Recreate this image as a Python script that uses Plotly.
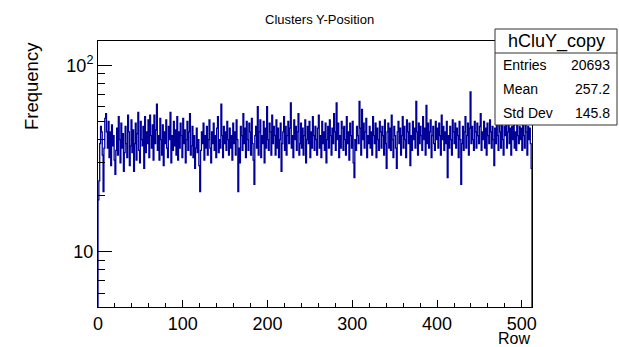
import numpy as np
import plotly.graph_objects as go

# ---- data: counts per row bin (512 bins, 0..512) ----
counts = [
    19, 24, 38, 47, 44, 33, 21, 36, 52, 55, 44, 36, 50, 32, 44, 29,
    48, 37, 42, 31, 26, 35, 46, 33, 53, 40, 30, 49, 36, 43, 27, 34,
    47, 38, 32, 54, 44, 29, 37, 51, 34, 45, 27, 38, 49, 31, 43, 56,
    35, 30, 50, 40, 37, 47, 28, 53, 34, 44, 38, 51, 32, 54, 42, 36,
    48, 31, 54, 38, 45, 62, 35, 42, 31, 52, 40, 33, 48, 29, 44, 38,
    51, 36, 32, 47, 40, 56, 30, 42, 35, 50, 37, 45, 33, 53, 31, 44,
    36, 49, 42, 32, 52, 38, 45, 30, 40, 50, 35, 44, 55, 33, 37, 47,
    32, 42, 28, 36, 46, 34, 40, 29, 21, 35, 44, 38, 49, 31, 42, 36,
    47, 33, 40, 51, 36, 30, 44, 38, 49, 35, 42, 32, 46, 53, 34, 40,
    36, 62, 42, 32, 47, 38, 44, 35, 50, 40, 33, 46, 36, 42, 31, 49,
    38, 44, 33, 51, 40, 21, 36, 30, 47, 42, 35, 55, 38, 46, 32, 50,
    40, 35, 49, 44, 33, 52, 38, 31, 23, 42, 47, 36, 60, 33, 44, 51,
    32, 42, 38, 50, 30, 46, 36, 60, 40, 35, 49, 44, 33, 54, 38, 47,
    42, 33, 51, 36, 46, 32, 40, 49, 27, 38, 44, 53, 35, 47, 33, 42,
    50, 38, 46, 63, 36, 42, 32, 51, 40, 47, 35, 44, 55, 33, 38, 49,
    36, 46, 33, 42, 51, 30, 40, 47, 38, 50, 32, 44, 36, 53, 42, 35,
    47, 40, 33, 46, 54, 36, 42, 32, 50, 38, 44, 35, 49, 30, 40, 47,
    36, 51, 42, 33, 46, 38, 55, 44, 35, 63, 40, 49, 32, 42, 36, 50,
    46, 35, 47, 40, 33, 53, 38, 44, 31, 49, 42, 36, 50, 30, 25, 40,
    35, 47, 42, 38, 64, 46, 33, 58, 40, 49, 36, 44, 52, 32, 42, 38,
    47, 36, 44, 33, 53, 42, 38, 49, 32, 46, 40, 35, 50, 44, 36, 47,
    42, 33, 51, 38, 28, 44, 49, 36, 46, 35, 54, 40, 32, 47, 42, 36,
    28, 44, 50, 38, 46, 33, 42, 53, 36, 47, 40, 32, 51, 44, 38, 49,
    29, 42, 35, 50, 40, 46, 36, 64, 44, 33, 49, 38, 47, 42, 35, 53,
    40, 46, 33, 61, 38, 49, 36, 44, 51, 32, 42, 47, 38, 35, 50, 40,
    46, 36, 49, 42, 33, 54, 40, 47, 35, 44, 38, 50, 25, 42, 36, 47,
    40, 33, 51, 44, 38, 49, 36, 46, 42, 32, 50, 40, 23, 38, 47, 35,
    44, 53, 36, 42, 49, 33, 46, 72, 38, 47, 40, 35, 50, 44, 36, 49,
    42, 38, 47, 55, 35, 44, 40, 50, 36, 46, 33, 49, 42, 38, 51, 44,
    36, 47, 40, 29, 46, 38, 50, 42, 35, 49, 44, 36, 53, 40, 33, 47,
    42, 49, 36, 44, 51, 38, 46, 33, 47, 40, 50, 36, 44, 35, 49, 42,
    38, 47, 40, 46, 35, 50, 42, 36, 49, 44, 33, 47, 40, 46, 38, 28,
]
x_min, x_max = 0, 512
x_ticks = [0, 100, 200, 300, 400, 500]
y_ticks = [10, 100]
y_ticktext = ["10", "10<sup>2</sup>"]
y_minor = [6, 7, 8, 9, 20, 30, 40, 50, 60, 70, 80, 90]

stats_name = "hCluY_copy"
stats_rows = [("Entries", "20693"), ("Mean", "257.2"), ("Std Dev", "145.8")]

title = "Clusters Y-Position"
x_title = "Row"
y_title = "Frequency"

# ---- step outline (ROOT-style histogram) ----
nb = len(counts)
edges = np.linspace(x_min, x_max, nb + 1)
floor = 1.0
xs = [edges[0]] + list(edges) + [edges[-1]]
ys = [floor] + list(counts) + [counts[-1], floor]

W, H = 619, 347
L, R, T, B = 98, 532, 41, 307


def px(x):
    return (x - L) / (R - L)


def py(y):
    return (B - y) / (B - T)


FONT = "Liberation Sans, Arial, Helvetica, sans-serif"

fig = go.Figure()
fig.add_trace(go.Scatter(
    x=xs, y=ys, mode="lines", line=dict(color="#000099", width=1.3, shape="hv"),
    hoverinfo="skip", showlegend=False,
))

fig.update_layout(
    width=W, height=H,
    margin=dict(l=L, r=W - R, t=T, b=H - B, pad=0),
    paper_bgcolor="white", plot_bgcolor="white",
    font=dict(family=FONT, color="black"),
    showlegend=False,
)
fig.update_xaxes(
    range=[x_min, x_max], showgrid=False, zeroline=False,
    showline=True, mirror=True, linecolor="black", linewidth=1,
    ticks="inside", ticklen=7, tickcolor="black", tickwidth=1,
    tickvals=x_ticks, tickfont=dict(size=18, family=FONT),
    minor=dict(ticks="inside", ticklen=4, dtick=20, tick0=0, tickcolor="black", showgrid=False),
)
fig.update_yaxes(
    type="log", range=[0.703, 2.131], showgrid=False, zeroline=False,
    showline=True, mirror=True, linecolor="black", linewidth=1,
    ticks="inside", ticklen=14, tickcolor="black", tickwidth=1,
    tickvals=y_ticks, ticktext=y_ticktext, tickfont=dict(size=18, family=FONT),
    minor=dict(ticks="inside", ticklen=7, tickmode="array", tickvals=y_minor,
               tickcolor="black", showgrid=False),
)

ann = []
ann.append(dict(text=title, x=px(319.5), y=py(19), xref="paper", yref="paper",
                showarrow=False, font=dict(size=13, family=FONT), xanchor="center", yanchor="middle"))
ann.append(dict(text=x_title, x=px(532), y=py(338.5), xref="paper", yref="paper",
                showarrow=False, font=dict(size=16, family=FONT), xanchor="right", yanchor="middle"))
ann.append(dict(text=y_title, x=px(31), y=py(86), xref="paper", yref="paper", textangle=-90,
                showarrow=False, font=dict(size=18.5, family=FONT), xanchor="center", yanchor="middle"))

# stats box
bx0, bx1, by0, by1, bsep = 495, 617, 29, 125, 53
shapes = [
    dict(type="rect", xref="paper", yref="paper", x0=px(bx0), x1=px(bx1), y0=py(by1), y1=py(by0),
         fillcolor="white", line=dict(color="#333333", width=1), layer="above"),
    dict(type="line", xref="paper", yref="paper", x0=px(bx0), x1=px(bx1), y0=py(bsep), y1=py(bsep),
         line=dict(color="#333333", width=1), layer="above"),
]
ann.append(dict(text=stats_name, x=px(556), y=py(41.5), xref="paper", yref="paper",
                showarrow=False, font=dict(size=18, family=FONT), xanchor="center", yanchor="middle"))
row_y = [65, 89.3, 113]
for (k, v), yy in zip(stats_rows, row_y):
    ann.append(dict(text=k, x=px(501), y=py(yy), xref="paper", yref="paper",
                    showarrow=False, font=dict(size=14, family=FONT), xanchor="left", yanchor="middle"))
    ann.append(dict(text=v, x=px(612), y=py(yy), xref="paper", yref="paper",
                    showarrow=False, font=dict(size=14, family=FONT), xanchor="right", yanchor="middle"))

fig.update_layout(annotations=ann, shapes=shapes)
fig.write_html("out.html")
